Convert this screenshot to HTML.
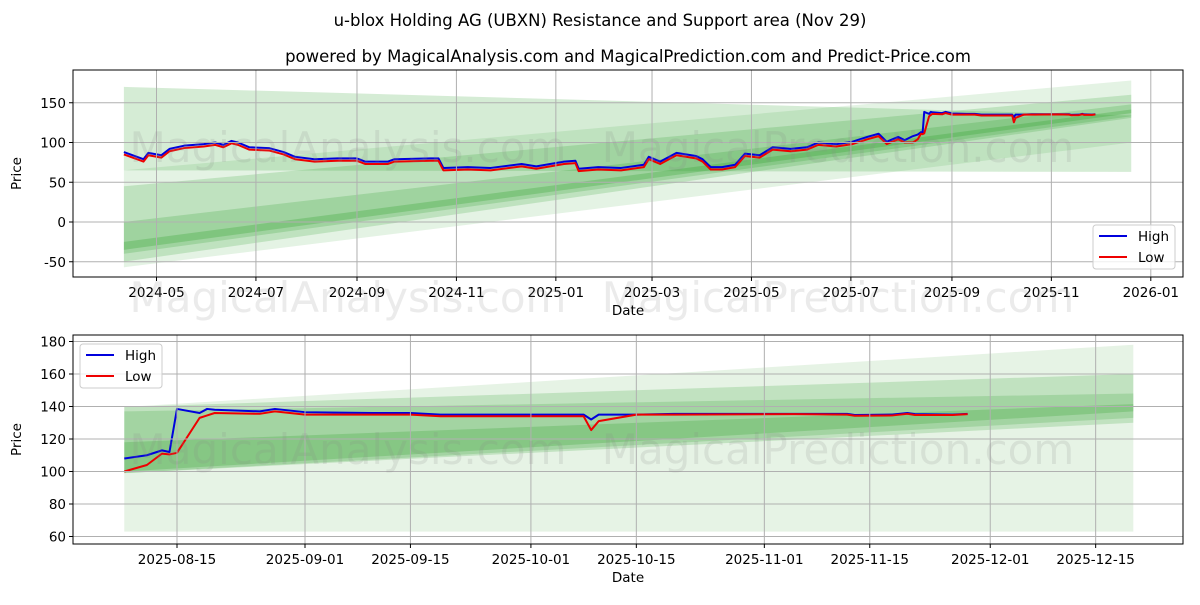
<!DOCTYPE html>
<html><head><meta charset="utf-8"><style>
body{margin:0;background:#fff;}
svg text{font-family:"DejaVu Sans","Liberation Sans",sans-serif;}
</style></head><body>
<svg id="c" width="1200" height="600" xmlns="http://www.w3.org/2000/svg">
<text x="600" y="26" text-anchor="middle" font-size="16.5">u-blox Holding AG (UBXN) Resistance and Support area (Nov 29)</text>
<text x="628" y="62" text-anchor="middle" font-size="16.5">powered by MagicalAnalysis.com and MagicalPrediction.com and Predict-Price.com</text>
<g id="top"></g>
<g id="bot"></g>
</svg>
<script>
const dates=["2024-04-11","2024-04-23","2024-04-26","2024-05-04","2024-05-09","2024-05-18","2024-05-30","2024-06-06","2024-06-11","2024-06-16","2024-06-20","2024-06-27","2024-07-09","2024-07-18","2024-07-25","2024-08-06","2024-08-20","2024-09-01","2024-09-06","2024-09-20","2024-09-24","2024-10-16","2024-10-21","2024-10-24","2024-11-08","2024-11-22","2024-12-11","2024-12-20","2025-01-06","2025-01-13","2025-01-15","2025-01-27","2025-02-10","2025-02-24","2025-02-27","2025-03-06","2025-03-16","2025-03-28","2025-04-01","2025-04-06","2025-04-13","2025-04-21","2025-04-27","2025-05-06","2025-05-14","2025-05-25","2025-06-04","2025-06-11","2025-06-22","2025-07-02","2025-07-11","2025-07-18","2025-07-23","2025-07-30","2025-08-03","2025-08-08","2025-08-11","2025-08-13","2025-08-14","2025-08-15","2025-08-18","2025-08-19","2025-08-20","2025-08-26","2025-08-28","2025-09-01","2025-09-10","2025-09-15","2025-09-19","2025-10-08","2025-10-09","2025-10-10","2025-10-15","2025-10-20","2025-11-05","2025-11-12","2025-11-13","2025-11-18","2025-11-20","2025-11-21","2025-11-26","2025-11-28"];
const high=[88,79,87,84,92,96,98,100,97,102,100,94,93,88,82,79,80,80,76,76,79,80,80,68,69,68,73,70,76,77,67,69,68,72,82,76,87,83,79,69,69,72,86,84,94,92,94,100,98,101,107,111,101,107,103,108,110,113,112,138.5,136,138.5,138,137,138.5,136.5,136,136,135,135,132,135,135,135.5,135.5,135.5,134.8,135,136,135.3,135,135.5];
const low=[85,76,84,81,89,93,95,97,94,99,97,91,90,85,79,76,77,77,73,73,76,77,77,65,66,65,70,67,73,74,64,66,65,69,79,73,84,80,76,66,66,69,83,81,91,89,91,97,95,98,104,108,98,104,100,100,104,111,110.5,111.5,133,134.5,136,135.5,137,135,135,135,134,134,125.5,131,135,135,135.3,135,134.3,134.5,135.5,134.8,134.8,135.3];
// top panel bands
const bandStart="2024-04-11", bandEnd="2025-12-20";
const bandLowStart=[65,-57,-50,-40,-35];
const bandHighStart=[170,65,45,0,-25];
const bandLowEnd=[63,100,131,133,137];
const bandHighEnd=[134,178,160,148,141.5];
const bandAlpha=[0.2,0.13,0.2,0.22,0.28];
// bottom panel bands
const botBandStart="2025-08-08";
const botLowStart=[63,99,99,100];
const botHighStart=[139.7,139.7,137,118];
const botLowEnd=[63,130,133,137];
const botHighEnd=[178,160,148,141.5];
const botAlpha=[0.12,0.2,0.2,0.25];
const topYTicks=[-50,0,50,100,150];
const topXTicks=["2024-05","2024-07","2024-09","2024-11","2025-01","2025-03","2025-05","2025-07","2025-09","2025-11","2026-01"];
const botYTicks=[60,80,100,120,140,160,180];
const botXTicks=["2025-08-15","2025-09-01","2025-09-15","2025-10-01","2025-10-15","2025-11-01","2025-11-15","2025-12-01","2025-12-15"];

const NS="http://www.w3.org/2000/svg";
const D=s=>{const p=s.split("-");return Date.UTC(+p[0],+p[1]-1,p[2]?+p[2]:1)/864e5;};
function mk(parent,tag,attrs){const e=document.createElementNS(NS,tag);for(const k in attrs)e.setAttribute(k,attrs[k]);parent.appendChild(e);return e;}

function panel(g,cfg){
  const {L,R,T,B,x,y,yt,xt,startDate,legend,bands}=cfg;
  const clipId=g.id+"clip";
  const cp=mk(g,"clipPath",{id:clipId});mk(cp,"rect",{x:L,y:T,width:R-L,height:B-T});
  const bg=mk(g,"g",{"clip-path":"url(#"+clipId+")"});
  const s0=D(bands.start),s1=D(bandEnd),a=D(startDate);
  const f=(v0,v1,d)=>v0+(v1-v0)*(d-s0)/(s1-s0);
  for(let i=0;i<bands.alpha.length;i++){
    const lo0=f(bands.lo0[i],bands.lo1[i],a),hi0=f(bands.hi0[i],bands.hi1[i],a);
    const p=mk(bg,"polygon",{points:`${x(a)},${y(hi0)} ${x(s1)},${y(bands.hi1[i])} ${x(s1)},${y(bands.lo1[i])} ${x(a)},${y(lo0)}`,fill:"rgb(46,160,44)","fill-opacity":bands.alpha[i]});
    
    
  }
  yt.forEach(v=>{
    const l=mk(g,"line",{x1:L,x2:R,y1:y(v),y2:y(v),stroke:"#b0b0b0","stroke-width":1});
    
    
    mk(g,"line",{x1:L-4,x2:L,y1:y(v),y2:y(v),stroke:"#000"});
    const t=mk(g,"text",{x:L-7,y:y(v)+5,"text-anchor":"end","font-size":13.5});t.textContent=v;
    
    
  });
  xt.forEach(s=>{
    const xx=x(D(s));
    const l=mk(g,"line",{x1:xx,x2:xx,y1:T,y2:B,stroke:"#b0b0b0","stroke-width":1});
    
    
    mk(g,"line",{x1:xx,x2:xx,y1:B,y2:B+4,stroke:"#000"});
    const t=mk(g,"text",{x:xx,y:B+20,"text-anchor":"middle","font-size":13.5});t.textContent=s;
    
    
  });
  const cx=(L+R)/2;
  cfg.wm.forEach(w=>{const t=mk(g,"text",{x:w[0],y:w[1],"text-anchor":"middle","font-size":42,fill:"#888","fill-opacity":0.17});t.textContent=w[2];
    
    });
  const idx=dates.map((d,i)=>i).filter(i=>D(dates[i])>=a);
  const ptsH=idx.map(i=>x(D(dates[i]))+","+y(high[i])).join(" ");
  const ptsL=idx.map(i=>x(D(dates[i]))+","+y(low[i])).join(" ");
  const hl=mk(bg,"polyline",{points:ptsH,fill:"none",stroke:"#0000dd","stroke-width":2,"stroke-linejoin":"round"});
  
  
  const ll=mk(bg,"polyline",{points:ptsL,fill:"none",stroke:"#ee0000","stroke-width":2,"stroke-linejoin":"round"});
  
  
  mk(g,"rect",{x:L,y:T,width:R-L,height:B-T,fill:"none",stroke:"#000","stroke-width":1});
  const xl=mk(g,"text",{x:cx,y:B+38,"text-anchor":"middle","font-size":13.5});xl.textContent="Date";
  
  
  const yl=mk(g,"text",{x:0,y:0,"text-anchor":"middle","font-size":13.5,transform:`translate(${L-52},${(T+B)/2}) rotate(-90)`});yl.textContent="Price";
  
  
  const lg=mk(g,"g",{});
  
  
  const [lx,ly]=legend;
  mk(lg,"rect",{x:lx,y:ly,width:82,height:44,rx:3,fill:"#fff","fill-opacity":0.8,stroke:"#ccc"});
  mk(lg,"line",{x1:lx+6,x2:lx+34,y1:ly+11,y2:ly+11,stroke:"#0000dd","stroke-width":2});
  mk(lg,"line",{x1:lx+6,x2:lx+34,y1:ly+32,y2:ly+32,stroke:"#ee0000","stroke-width":2});
  const t1=mk(lg,"text",{x:lx+45,y:ly+16,"font-size":13.5});t1.textContent="High";
  
  
  const t2=mk(lg,"text",{x:lx+45,y:ly+37,"font-size":13.5});t2.textContent="Low";
  
  
}
const d0=D("2024-05-01");
panel(document.getElementById("top"),{L:73,R:1183,T:70,B:277,
  x:d=>156.5+(d-d0)*1.630, y:v=>222-0.795*v, yt:topYTicks, xt:topXTicks,
  startDate:"2024-04-11", legend:[1093,225],
  bands:{start:bandStart,lo0:bandLowStart,hi0:bandHighStart,lo1:bandLowEnd,hi1:bandHighEnd,alpha:bandAlpha},
  wm:[[348,162,"MagicalAnalysis.com"],[838,162,"MagicalPrediction.com"],[348,312,"MagicalAnalysis.com"],[838,312,"MagicalPrediction.com"]]});
const d1=D("2025-08-15");
panel(document.getElementById("bot"),{L:73,R:1183,T:335,B:544,
  x:d=>177+(d-d1)*7.53, y:v=>471.5-(v-100)*1.625, yt:botYTicks, xt:botXTicks,
  startDate:"2025-08-08", legend:[80,344],
  bands:{start:botBandStart,lo0:botLowStart,hi0:botHighStart,lo1:botLowEnd,hi1:botHighEnd,alpha:botAlpha},
  wm:[[348,464,"MagicalAnalysis.com"],[838,464,"MagicalPrediction.com"]]});
</script>
</body></html>
